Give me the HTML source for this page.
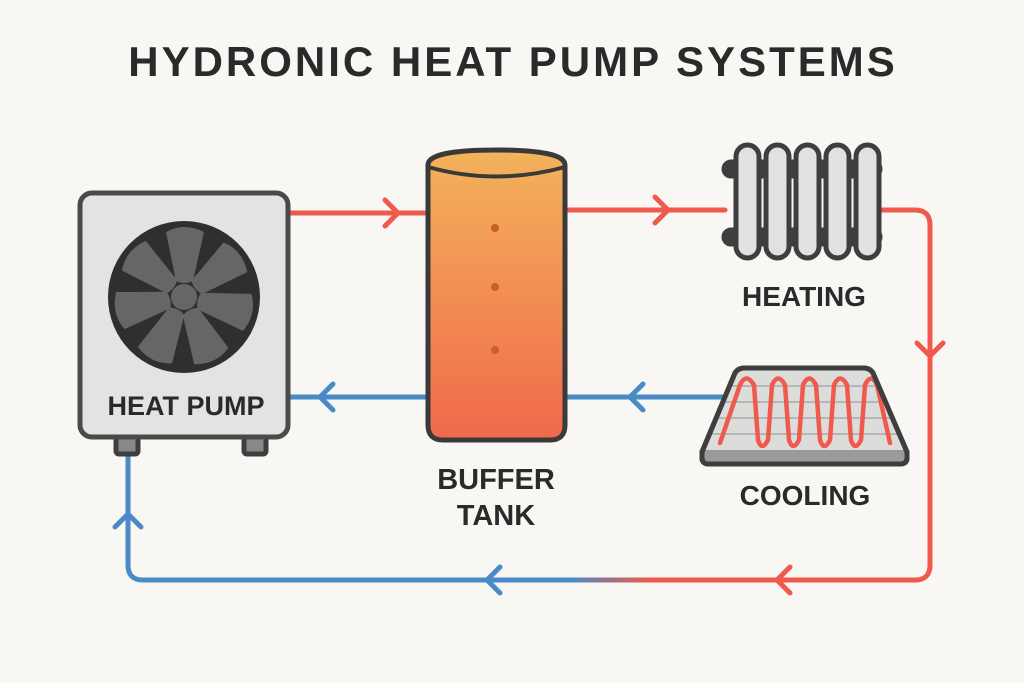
<!DOCTYPE html>
<html><head><style>
body{margin:0;background:#f8f7f4;}
svg{display:block}
text{font-family:"Liberation Sans",sans-serif;font-weight:bold;fill:#2a2a2a}
</style></head><body>
<svg width="1024" height="683" viewBox="0 0 1024 683">
<defs>
<linearGradient id="tank" x1="0" y1="0" x2="0" y2="1"><stop offset="0" stop-color="#f3b35b"/><stop offset="1" stop-color="#f0694b"/></linearGradient>
<linearGradient id="pipe" gradientUnits="userSpaceOnUse" x1="570" y1="0" x2="650" y2="0"><stop offset="0" stop-color="#4a8ac6"/><stop offset="1" stop-color="#ef5a4c"/></linearGradient>
</defs>
<rect width="1024" height="683" fill="#f8f7f4"/>
<text x="513" y="76" font-size="42" text-anchor="middle" letter-spacing="3">HYDRONIC HEAT PUMP SYSTEMS</text>

<g fill="none" stroke-width="5" stroke-linecap="round" stroke-linejoin="round">
<path d="M288 213H430" stroke="#ef5a4c"/>
<path d="M385 200L398 213L385 226" stroke="#ef5a4c"/>
<path d="M565 210H725" stroke="#ef5a4c"/>
<path d="M655 197L668 210L655 223" stroke="#ef5a4c"/>
<path d="M878 210H915Q930 210 930 225V565Q930 580 915 580H650" stroke="#ef5a4c"/>
<path d="M917 343L930 356L943 343" stroke="#ef5a4c"/>
<path d="M790 567L777 580L790 593" stroke="#ef5a4c"/>
<path d="M570 580H143Q128 580 128 565V450" stroke="#4a8ac6"/>
<path d="M651 580H569" stroke="url(#pipe)" stroke-linecap="butt"/>
<path d="M500 567L487 580L500 593" stroke="#4a8ac6"/>
<path d="M115 527L128 514L141 527" stroke="#4a8ac6"/>
<path d="M288 397H430" stroke="#4a8ac6"/>
<path d="M333 384L320 397L333 410" stroke="#4a8ac6"/>
<path d="M565 397H740" stroke="#4a8ac6"/>
<path d="M643 384L630 397L643 410" stroke="#4a8ac6"/>
</g>

<rect x="116" y="432" width="22" height="22" rx="3" fill="#888" stroke="#3e3e3e" stroke-width="5"/>
<rect x="244" y="432" width="22" height="22" rx="3" fill="#888" stroke="#3e3e3e" stroke-width="5"/>
<rect x="80" y="193" width="208" height="244" rx="12" fill="#e3e3e1" stroke="#4a4a4a" stroke-width="5"/>
<circle cx="184" cy="297" r="76" fill="#2f2f2f"/>
<g fill="#666">
<g id="bl"><path d="M166 232Q184 222 204 232L193 281Q184 285 176 281Z"/></g>
<use href="#bl" transform="rotate(51.4 184 297)"/>
<use href="#bl" transform="rotate(102.8 184 297)"/>
<use href="#bl" transform="rotate(154.3 184 297)"/>
<use href="#bl" transform="rotate(205.7 184 297)"/>
<use href="#bl" transform="rotate(257.1 184 297)"/>
<use href="#bl" transform="rotate(308.6 184 297)"/>
<circle cx="184" cy="297" r="13"/>
</g>
<text x="186" y="415" font-size="27" text-anchor="middle">HEAT PUMP</text>

<path d="M428 165Q428 150 496 150Q565 150 565 165V425Q565 440 550 440H443Q428 440 428 425Z" fill="url(#tank)" stroke="#3a3a3a" stroke-width="5"/>
<path d="M428 167Q496 186 565 167" fill="none" stroke="#3a3a3a" stroke-width="4"/>
<g fill="#c7602c"><circle cx="495" cy="228" r="4"/><circle cx="495" cy="287" r="4"/><circle cx="495" cy="350" r="4"/></g>
<text x="496" y="489" font-size="29" text-anchor="middle">BUFFER</text>
<text x="496" y="525" font-size="29" text-anchor="middle">TANK</text>

<g stroke="#3e3e3e" stroke-width="5">
<rect x="724" y="162" width="156" height="14" rx="7" fill="#3e3e3e"/>
<rect x="724" y="230" width="156" height="14" rx="7" fill="#3e3e3e"/>
<g fill="#e1e1df">
<rect x="736" y="145" width="23" height="113" rx="11.5"/>
<rect x="766" y="145" width="23" height="113" rx="11.5"/>
<rect x="796" y="145" width="23" height="113" rx="11.5"/>
<rect x="826" y="145" width="23" height="113" rx="11.5"/>
<rect x="856" y="145" width="23" height="113" rx="11.5"/>
</g></g>
<text x="804" y="306" font-size="28" text-anchor="middle">HEATING</text>

<path d="M702 452L735 373Q738 368 745 368H863Q870 368 873 373L907 452V458Q907 464 900 464H709Q702 464 702 458Z" fill="#9a9a98" stroke="#3e3e3e" stroke-width="5" stroke-linejoin="round"/>
<path d="M704 450L736 374Q739 370 745 370H863Q869 370 872 374L905 450Z" fill="#dcdcda"/>
<g stroke="#aaa" stroke-width="1.5"><path d="M730 386H880M724 402H887M718 418H893M712 434H899"/></g>
<path d="M720 443L740 385Q746 372 754 385L758 440Q762 452 768 440L772 385Q778 372 785 385L789 440Q793 452 799 440L803 385Q809 372 816 385L820 440Q824 452 830 440L834 385Q840 372 847 385L851 440Q855 452 861 440L865 385Q871 372 877 385L890 443" fill="none" stroke="#ef5a4c" stroke-width="4.5" stroke-linecap="round"/>
<path d="M702 452L735 373Q738 368 745 368H863Q870 368 873 373L907 452V458Q907 464 900 464H709Q702 464 702 458Z" fill="none" stroke="#3e3e3e" stroke-width="5" stroke-linejoin="round"/>
<text x="805" y="505" font-size="28" text-anchor="middle">COOLING</text>
</svg>
</body></html>
